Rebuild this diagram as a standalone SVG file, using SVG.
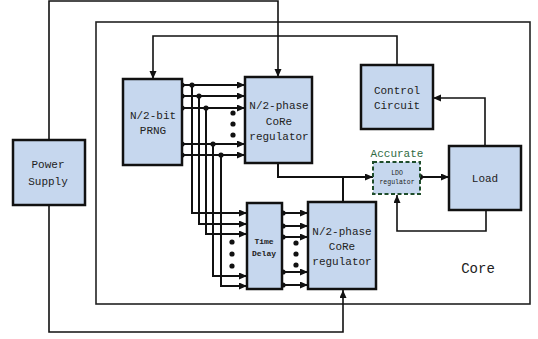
<svg xmlns="http://www.w3.org/2000/svg" width="538" height="339" viewBox="0 0 538 339">
<style>
.box{fill:#c6d7ee;stroke:#111;stroke-width:2.5}
.ln{fill:none;stroke:#111;stroke-width:1.6}
.bus{fill:none;stroke:#111;stroke-width:2}
.t{font-family:"Liberation Mono","DejaVu Sans Mono",monospace;font-size:11px;fill:#222;text-anchor:middle}
.ts{font-family:"Liberation Mono","DejaVu Sans Mono",monospace;font-size:8px;font-weight:bold;fill:#222;text-anchor:middle}
.dot{fill:#111}
</style>
<defs>
<marker id="ar" markerUnits="userSpaceOnUse" markerWidth="9" markerHeight="8" refX="8" refY="3.5" orient="auto">
<path d="M0,0 L8,3.5 L0,7 z" fill="#111"/>
</marker>
</defs>
<rect width="538" height="339" fill="#fff"/>
<g id="core">
<rect x="96" y="22" width="434" height="282" fill="none" stroke="#222" stroke-width="1.6"/>
<text x="478" y="273" font-family="Liberation Mono,DejaVu Sans Mono,monospace" font-size="14" fill="#222" text-anchor="middle">Core</text>
</g>
<g id="connectors">
<polyline class="ln" points="49,140 49,1 278,1 278,77" marker-end="url(#ar)"/>
<polyline class="ln" points="49,205 49,332 343,332 343,290" marker-end="url(#ar)"/>
<polyline class="ln" points="397,65 397,36 153,36 153,79" marker-end="url(#ar)"/>
<polyline class="ln" points="485,146 485,98 433,98" marker-end="url(#ar)"/>
<polyline class="ln" points="486,210 486,231 397,231 397,195" marker-end="url(#ar)"/>
<polyline class="bus" points="278,163 278,177 373,177" marker-end="url(#ar)"/>
<line class="bus" x1="343" y1="202" x2="343" y2="177"/>
<line class="bus" x1="420" y1="177" x2="449" y2="177" marker-end="url(#ar)"/>
<circle class="dot" cx="420" cy="177" r="3"/>
<!-- PRNG to upper regulator -->
<line class="bus" x1="182" y1="85" x2="245" y2="85" marker-end="url(#ar)"/>
<line class="bus" x1="182" y1="96" x2="245" y2="96" marker-end="url(#ar)"/>
<line class="bus" x1="182" y1="108" x2="245" y2="108" marker-end="url(#ar)"/>
<line class="bus" x1="182" y1="144" x2="245" y2="144" marker-end="url(#ar)"/>
<line class="bus" x1="182" y1="155" x2="245" y2="155" marker-end="url(#ar)"/>
<!-- branches to time delay -->
<polyline class="bus" points="192,85 192,213 247,213" marker-end="url(#ar)"/>
<polyline class="bus" points="199,96 199,224 247,224" marker-end="url(#ar)"/>
<polyline class="bus" points="206,108 206,234 247,234" marker-end="url(#ar)"/>
<polyline class="bus" points="213,144 213,276 247,276" marker-end="url(#ar)"/>
<polyline class="bus" points="221,155 221,286 247,286" marker-end="url(#ar)"/>
<!-- time delay to lower regulator -->
<line class="bus" x1="283" y1="213" x2="308" y2="213" marker-end="url(#ar)"/>
<line class="bus" x1="283" y1="226" x2="308" y2="226" marker-end="url(#ar)"/>
<line class="bus" x1="283" y1="237" x2="308" y2="237" marker-end="url(#ar)"/>
<line class="bus" x1="283" y1="272" x2="308" y2="272" marker-end="url(#ar)"/>
<line class="bus" x1="283" y1="285" x2="308" y2="285" marker-end="url(#ar)"/>
<g class="dot">
<circle cx="182" cy="85" r="2.6"/><circle cx="182" cy="96" r="2.6"/><circle cx="182" cy="108" r="2.6"/><circle cx="182" cy="144" r="2.6"/><circle cx="182" cy="155" r="2.6"/>
<circle cx="192" cy="85" r="2.6"/><circle cx="199" cy="96" r="2.6"/><circle cx="206" cy="108" r="2.6"/><circle cx="213" cy="144" r="2.6"/><circle cx="221" cy="155" r="2.6"/>
<circle cx="233" cy="113" r="2.6"/><circle cx="233" cy="124" r="2.6"/><circle cx="233" cy="135" r="2.6"/>
<circle cx="232" cy="242" r="2.6"/><circle cx="232" cy="254" r="2.6"/><circle cx="232" cy="266" r="2.6"/>
<circle cx="283" cy="213" r="2.6"/><circle cx="283" cy="226" r="2.6"/><circle cx="283" cy="237" r="2.6"/><circle cx="283" cy="272" r="2.6"/><circle cx="283" cy="285" r="2.6"/>
<circle cx="296" cy="243" r="2.6"/><circle cx="296" cy="254" r="2.6"/><circle cx="296" cy="265" r="2.6"/>
</g>
</g>
<g id="power-supply">
<rect class="box" x="13" y="140" width="72" height="65"/>
<text class="t" x="48" y="168">Power</text>
<text class="t" x="48" y="185">Supply</text>
</g>
<g id="prng">
<rect class="box" x="123" y="79" width="59" height="86"/>
<text class="t" x="153" y="119">N/2-bit</text>
<text class="t" x="153" y="134">PRNG</text>
</g>
<g id="upper-regulator">
<rect class="box" x="245" y="77" width="67" height="86"/>
<text class="t" x="279" y="109">N/2-phase</text>
<text class="t" x="279" y="125">CoRe</text>
<text class="t" x="279" y="140">regulator</text>
</g>
<g id="control-circuit">
<rect class="box" x="361" y="65" width="72" height="64"/>
<text class="t" x="397" y="94">Control</text>
<text class="t" x="397" y="109">Circuit</text>
</g>
<g id="ldo">
<text x="397" y="157" font-family="Liberation Mono,DejaVu Sans Mono,monospace" font-size="11" fill="#2f6b3f" text-anchor="middle">Accurate</text>
<rect x="373" y="162" width="47" height="32" fill="#c6d7ee" stroke="#1e4d2b" stroke-width="2" stroke-dasharray="4,2.5"/>
<text x="397" y="175" font-family="Liberation Mono,DejaVu Sans Mono,monospace" font-size="6.5" fill="#222" text-anchor="middle">LDO</text>
<text x="397" y="184" font-family="Liberation Mono,DejaVu Sans Mono,monospace" font-size="6.5" fill="#222" text-anchor="middle">regulator</text>
</g>
<g id="load">
<rect class="box" x="449" y="146" width="72" height="64"/>
<text class="t" x="485" y="182">Load</text>
</g>
<g id="time-delay">
<rect class="box" x="247" y="203" width="35" height="86"/>
<text class="ts" x="264" y="244">Time</text>
<text class="ts" x="264" y="256">Delay</text>
</g>
<g id="lower-regulator">
<rect class="box" x="308" y="202" width="68" height="87"/>
<text class="t" x="342" y="235">N/2-phase</text>
<text class="t" x="342" y="250">CoRe</text>
<text class="t" x="342" y="265">regulator</text>
</g>
</svg>
